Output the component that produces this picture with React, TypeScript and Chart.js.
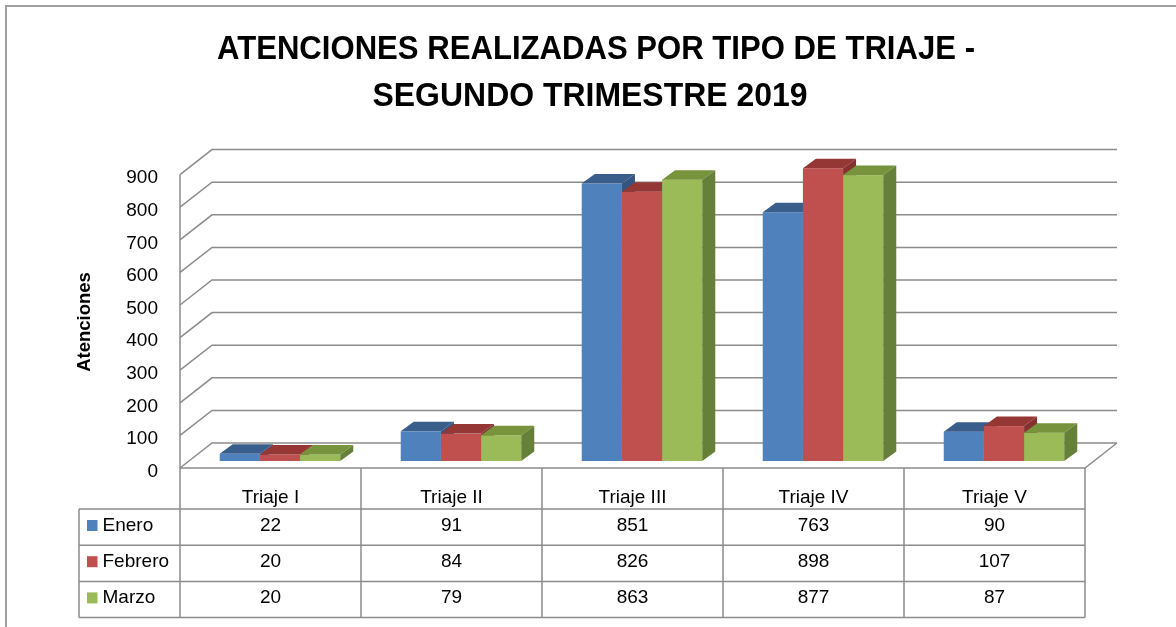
import React, { useEffect, useRef } from "react";
import { Chart, registerables } from "chart.js";

Chart.register(...registerables);

// ---------- data ----------
const TITLE_LINES = ["ATENCIONES REALIZADAS POR TIPO DE TRIAJE -", "SEGUNDO TRIMESTRE 2019"];
const Y_TITLE = "Atenciones";
const CATEGORIES = ["Triaje I", "Triaje II", "Triaje III", "Triaje IV", "Triaje V"];
const SERIES_NAMES = ["Enero", "Febrero", "Marzo"];
const ENERO = [22, 91, 851, 763, 90];
const FEBRERO = [20, 84, 826, 898, 107];
const MARZO = [20, 79, 863, 877, 87];
const Y_MIN = 0;
const Y_MAX = 900;
const Y_STEP = 100;

// ---------- style ----------
const FRONT_COLORS = ["#4F81BD", "#C0504D", "#9BBB59"];
const TOP_COLORS = ["#3A5E8C", "#953735", "#77933C"];
const SIDE_COLORS = ["#34557F", "#843130", "#66803A"];
const GRID_COLOR = "#8c8c8c";
const TEXT_FONT = "'Liberation Sans', Arial, sans-serif";

// projection offsets (relative to the bar plane)
const FRONT_DX = -9.5;
const FRONT_DY = 7;
const BACK_DX = 22.5;
const BACK_DY = -18;
const BAR_DX = 13;
const BAR_DY = -9.5;

// table
const HEADER_H = 41;
const ROW_H = 36.2;
const LEGEND_LEFT = 79;

const threeD = {
  id: "threeD",
  beforeDatasetsDraw(chart: any) {
    const { ctx, chartArea, scales } = chart;
    const y = scales.y;
    const left = chartArea.left;
    const right = chartArea.right;
    ctx.save();
    ctx.strokeStyle = GRID_COLOR;
    ctx.lineWidth = 1.5;
    // back wall + side wall grid
    for (let v = Y_MIN; v <= Y_MAX; v += Y_STEP) {
      const py = y.getPixelForValue(v);
      ctx.beginPath();
      ctx.moveTo(left + FRONT_DX, py + FRONT_DY);
      ctx.lineTo(left + BACK_DX, py + BACK_DY);
      ctx.lineTo(right + BACK_DX, py + BACK_DY);
      ctx.stroke();
    }
    const y0 = y.getPixelForValue(Y_MIN);
    const yTop = y.getPixelForValue(Y_MAX);
    // left wall front edge
    ctx.beginPath();
    ctx.moveTo(left + FRONT_DX, yTop + FRONT_DY);
    ctx.lineTo(left + FRONT_DX, y0 + FRONT_DY);
    ctx.stroke();
    // floor front and right edges
    ctx.beginPath();
    ctx.moveTo(left + FRONT_DX, y0 + FRONT_DY);
    ctx.lineTo(right + FRONT_DX, y0 + FRONT_DY);
    ctx.lineTo(right + BACK_DX, y0 + BACK_DY);
    ctx.stroke();

    // bars
    const metas = chart.data.datasets.map((_: any, d: number) => chart.getDatasetMeta(d));
    for (let i = 0; i < CATEGORIES.length; i++) {
      for (let d = 0; d < metas.length; d++) {
        const el = metas[d].data[i];
        if (!el) continue;
        const { x, y: top, base, width } = el.getProps(["x", "y", "base", "width"], true);
        const l = x - width / 2;
        const r = x + width / 2;
        // front
        ctx.fillStyle = FRONT_COLORS[d];
        ctx.fillRect(l, top, width, base - top);
        // top
        ctx.fillStyle = TOP_COLORS[d];
        ctx.beginPath();
        ctx.moveTo(l, top);
        ctx.lineTo(r, top);
        ctx.lineTo(r + BAR_DX, top + BAR_DY);
        ctx.lineTo(l + BAR_DX, top + BAR_DY);
        ctx.closePath();
        ctx.fill();
        // side
        ctx.fillStyle = SIDE_COLORS[d];
        ctx.beginPath();
        ctx.moveTo(r, top);
        ctx.lineTo(r + BAR_DX, top + BAR_DY);
        ctx.lineTo(r + BAR_DX, base + BAR_DY);
        ctx.lineTo(r, base);
        ctx.closePath();
        ctx.fill();
      }
    }
    ctx.restore();
    return false;
  },
  afterDraw(chart: any) {
    const { ctx, chartArea, scales } = chart;
    const y = scales.y;
    const left = chartArea.left;
    const right = chartArea.right;
    const catW = (right - left) / CATEGORIES.length;
    const y0 = y.getPixelForValue(Y_MIN) + FRONT_DY;
    ctx.save();

    // frame
    ctx.strokeStyle = "#a0a0a0";
    ctx.lineWidth = 2;
    ctx.beginPath();
    ctx.moveTo(6, chart.height);
    ctx.lineTo(6, 6);
    ctx.lineTo(chart.width, 6);
    ctx.stroke();

    // title
    ctx.fillStyle = "#000";
    ctx.textAlign = "center";
    ctx.textBaseline = "alphabetic";
    ctx.font = `bold 33px ${TEXT_FONT}`;
    ctx.fillText(TITLE_LINES[0], 596, 59, 758);
    ctx.fillText(TITLE_LINES[1], 590, 106, 435);

    // y-axis title
    ctx.save();
    ctx.translate(85, 322);
    ctx.rotate(-Math.PI / 2);
    ctx.font = `bold 18.5px ${TEXT_FONT}`;
    ctx.textBaseline = "middle";
    ctx.fillText(Y_TITLE, 0, 0);
    ctx.restore();

    // data table
    const tLeft = left + FRONT_DX;
    const tRight = right + FRONT_DX;
    const headerBottom = y0 + HEADER_H;
    const tableBottom = headerBottom + ROW_H * SERIES_NAMES.length;
    ctx.strokeStyle = GRID_COLOR;
    ctx.lineWidth = 1.5;
    ctx.beginPath();
    for (let c = 0; c <= CATEGORIES.length; c++) {
      const x = tLeft + c * catW;
      ctx.moveTo(x, y0);
      ctx.lineTo(x, tableBottom);
    }
    for (let r = 0; r <= SERIES_NAMES.length; r++) {
      const yy = headerBottom + r * ROW_H;
      ctx.moveTo(LEGEND_LEFT, yy);
      ctx.lineTo(tRight, yy);
    }
    ctx.moveTo(LEGEND_LEFT, headerBottom);
    ctx.lineTo(LEGEND_LEFT, tableBottom);
    ctx.stroke();

    ctx.font = `19px ${TEXT_FONT}`;
    ctx.fillStyle = "#000";
    ctx.textAlign = "center";
    ctx.textBaseline = "alphabetic";
    CATEGORIES.forEach((c, i) => {
      ctx.fillText(c, tLeft + (i + 0.5) * catW, y0 + 35);
    });
    const datasets = chart.data.datasets;
    datasets.forEach((ds: any, d: number) => {
      const rowTop = headerBottom + d * ROW_H;
      ds.data.forEach((v: number, i: number) => {
        ctx.textAlign = "center";
        ctx.fillStyle = "#000";
        ctx.fillText(String(v), tLeft + (i + 0.5) * catW, rowTop + 22);
      });
      ctx.fillStyle = FRONT_COLORS[d];
      ctx.fillRect(LEGEND_LEFT + 8, rowTop + 11, 10.5, 11);
      ctx.fillStyle = "#000";
      ctx.textAlign = "left";
      ctx.fillText(ds.label, LEGEND_LEFT + 23.5, rowTop + 22);
    });
    ctx.restore();
  },
};

export default function App() {
  const ref = useRef<HTMLCanvasElement | null>(null);
  useEffect(() => {
    if (!ref.current) return;
    const chart = new Chart(ref.current, {
      type: "bar",
      data: {
        labels: CATEGORIES,
        datasets: [
          { label: SERIES_NAMES[0], data: ENERO, backgroundColor: FRONT_COLORS[0] },
          { label: SERIES_NAMES[1], data: FEBRERO, backgroundColor: FRONT_COLORS[1] },
          { label: SERIES_NAMES[2], data: MARZO, backgroundColor: FRONT_COLORS[2] },
        ],
      },
      options: {
        responsive: false,
        animation: false,
        devicePixelRatio: 1,
        layout: { padding: { left: 0, right: 81.5, top: 167.6, bottom: 166 } },
        datasets: { bar: { categoryPercentage: 0.666, barPercentage: 1 } },
        plugins: {
          legend: { display: false },
          title: { display: false },
          tooltip: { enabled: false },
        },
        scales: {
          x: { display: false, offset: true },
          y: {
            min: Y_MIN,
            max: Y_MAX,
            ticks: {
              stepSize: Y_STEP,
              padding: 31.5,
              labelOffset: 10.5,
              color: "#000",
              font: { family: TEXT_FONT, size: 19 },
            },
            grid: { display: false, drawTicks: false },
            border: { display: false },
            afterFit: (s: any) => {
              s.width = 189.5;
            },
          },
        },
      } as any,
      plugins: [threeD],
    });
    return () => chart.destroy();
  }, []);
  return (
    <div style={{ position: "fixed", left: 0, top: 0, width: 1176, height: 627, background: "#fff" }}>
      <canvas ref={ref} width={1176} height={627} style={{ display: "block" }} />
    </div>
  );
}
